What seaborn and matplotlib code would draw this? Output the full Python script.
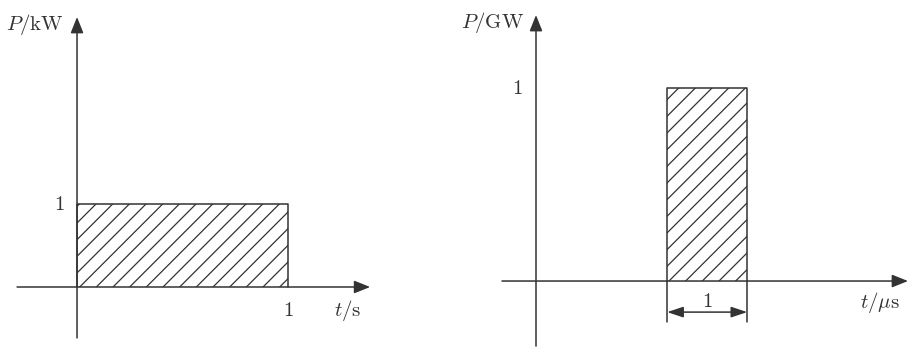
import numpy as np
import pandas as pd
import matplotlib
matplotlib.use("Agg")
import matplotlib.pyplot as plt
import seaborn as sns

# pulse data: (start, duration, power) for each panel
pulse_start = [0.0, 1.64]
pulse_width = [1.0, 1.0]
pulse_power = [1.0, 1.0]
y_units = [r"$P/\mathrm{kW}$", r"$P/\mathrm{GW}$"]
x_units = [r"$t/\mathrm{s}$", r"$t/\mu\mathrm{s}$"]

sns.set_style("white")
plt.rcParams["mathtext.fontset"] = "cm"
plt.rcParams["hatch.linewidth"] = 0.9
ink = "#333333"
fs = 15

fig = plt.figure(figsize=(9.09, 3.48), dpi=100)
ax1 = fig.add_axes([0, 0, 440 / 909, 1])
ax2 = fig.add_axes([460 / 909, 0, 449 / 909, 1])
axes = [ax1, ax2]

# limits so that the picture lands where the reference has it
ax1.set_xlim(-0.365, 1.720)
ax1.set_ylim(-0.735, 3.458)
ax2.set_xlim(-0.95, 4.6625)
ax2.set_ylim(-0.347, 1.456)

axis_ends = [((-0.284, 1.389), (-0.614, 3.253)),
             ((-0.425, 4.65), (-0.337, 1.378))]

arrow = dict(arrowstyle="-|>,head_length=0.75,head_width=0.3", color=ink,
             lw=1.1, shrinkA=0, shrinkB=0, mutation_scale=13)

for i, ax in enumerate(axes):
    ax.axis("off")
    t0 = pulse_start[i]
    t1 = t0 + pulse_width[i]
    p = pulse_power[i]
    df = pd.DataFrame({"t": [t0, t0, t1, t1], "P": [0, p, p, 0]})
    ax.fill_between([t0, t1], 0, p, facecolor="white", edgecolor=ink,
                    hatch="//", linewidth=0)
    sns.lineplot(data=df, x="t", y="P", sort=False, estimator=None,
                 color=ink, lw=1.1, ax=ax)
    (xa, xb), (ya, yb) = axis_ends[i]
    ax.annotate("", xy=(xb, 0), xytext=(xa, 0), arrowprops=arrow)
    ax.annotate("", xy=(0, yb), xytext=(0, ya), arrowprops=arrow)

# left panel labels
ax1.text(-0.06, 1.0, "$1$", ha="right", va="center", fontsize=fs, color=ink)
ax1.text(1.0, -0.28, "$1$", ha="center", va="center", fontsize=fs, color=ink)
ax1.text(1.285, -0.28, x_units[0], ha="center", va="center", fontsize=fs, color=ink)
ax1.text(-0.2, 3.16, y_units[0], ha="center", va="center", fontsize=fs, color=ink)

# right panel labels and width marker
t0 = pulse_start[1]
t1 = t0 + pulse_width[1]
ax2.text(-0.16, 1.0, "$1$", ha="right", va="center", fontsize=fs, color=ink)
ax2.text(-0.54, 1.34, y_units[1], ha="center", va="center", fontsize=fs, color=ink)
ax2.text(4.3, -0.11, x_units[1], ha="center", va="center", fontsize=fs, color=ink)
for tx in (t0, t1):
    ax2.plot([tx, tx], [0, -0.212], color=ink, lw=1.1)
ax2.annotate("", xy=(t1, -0.161), xytext=(t0, -0.161),
             arrowprops=dict(arrowstyle="<|-|>,head_length=0.75,head_width=0.25",
                             color=ink, lw=1.1, shrinkA=0, shrinkB=0,
                             mutation_scale=13))
ax2.text((t0 + t1) / 2, -0.105, "$1$", ha="center", va="center", fontsize=fs, color=ink)

fig.savefig("out.png", dpi=100)
